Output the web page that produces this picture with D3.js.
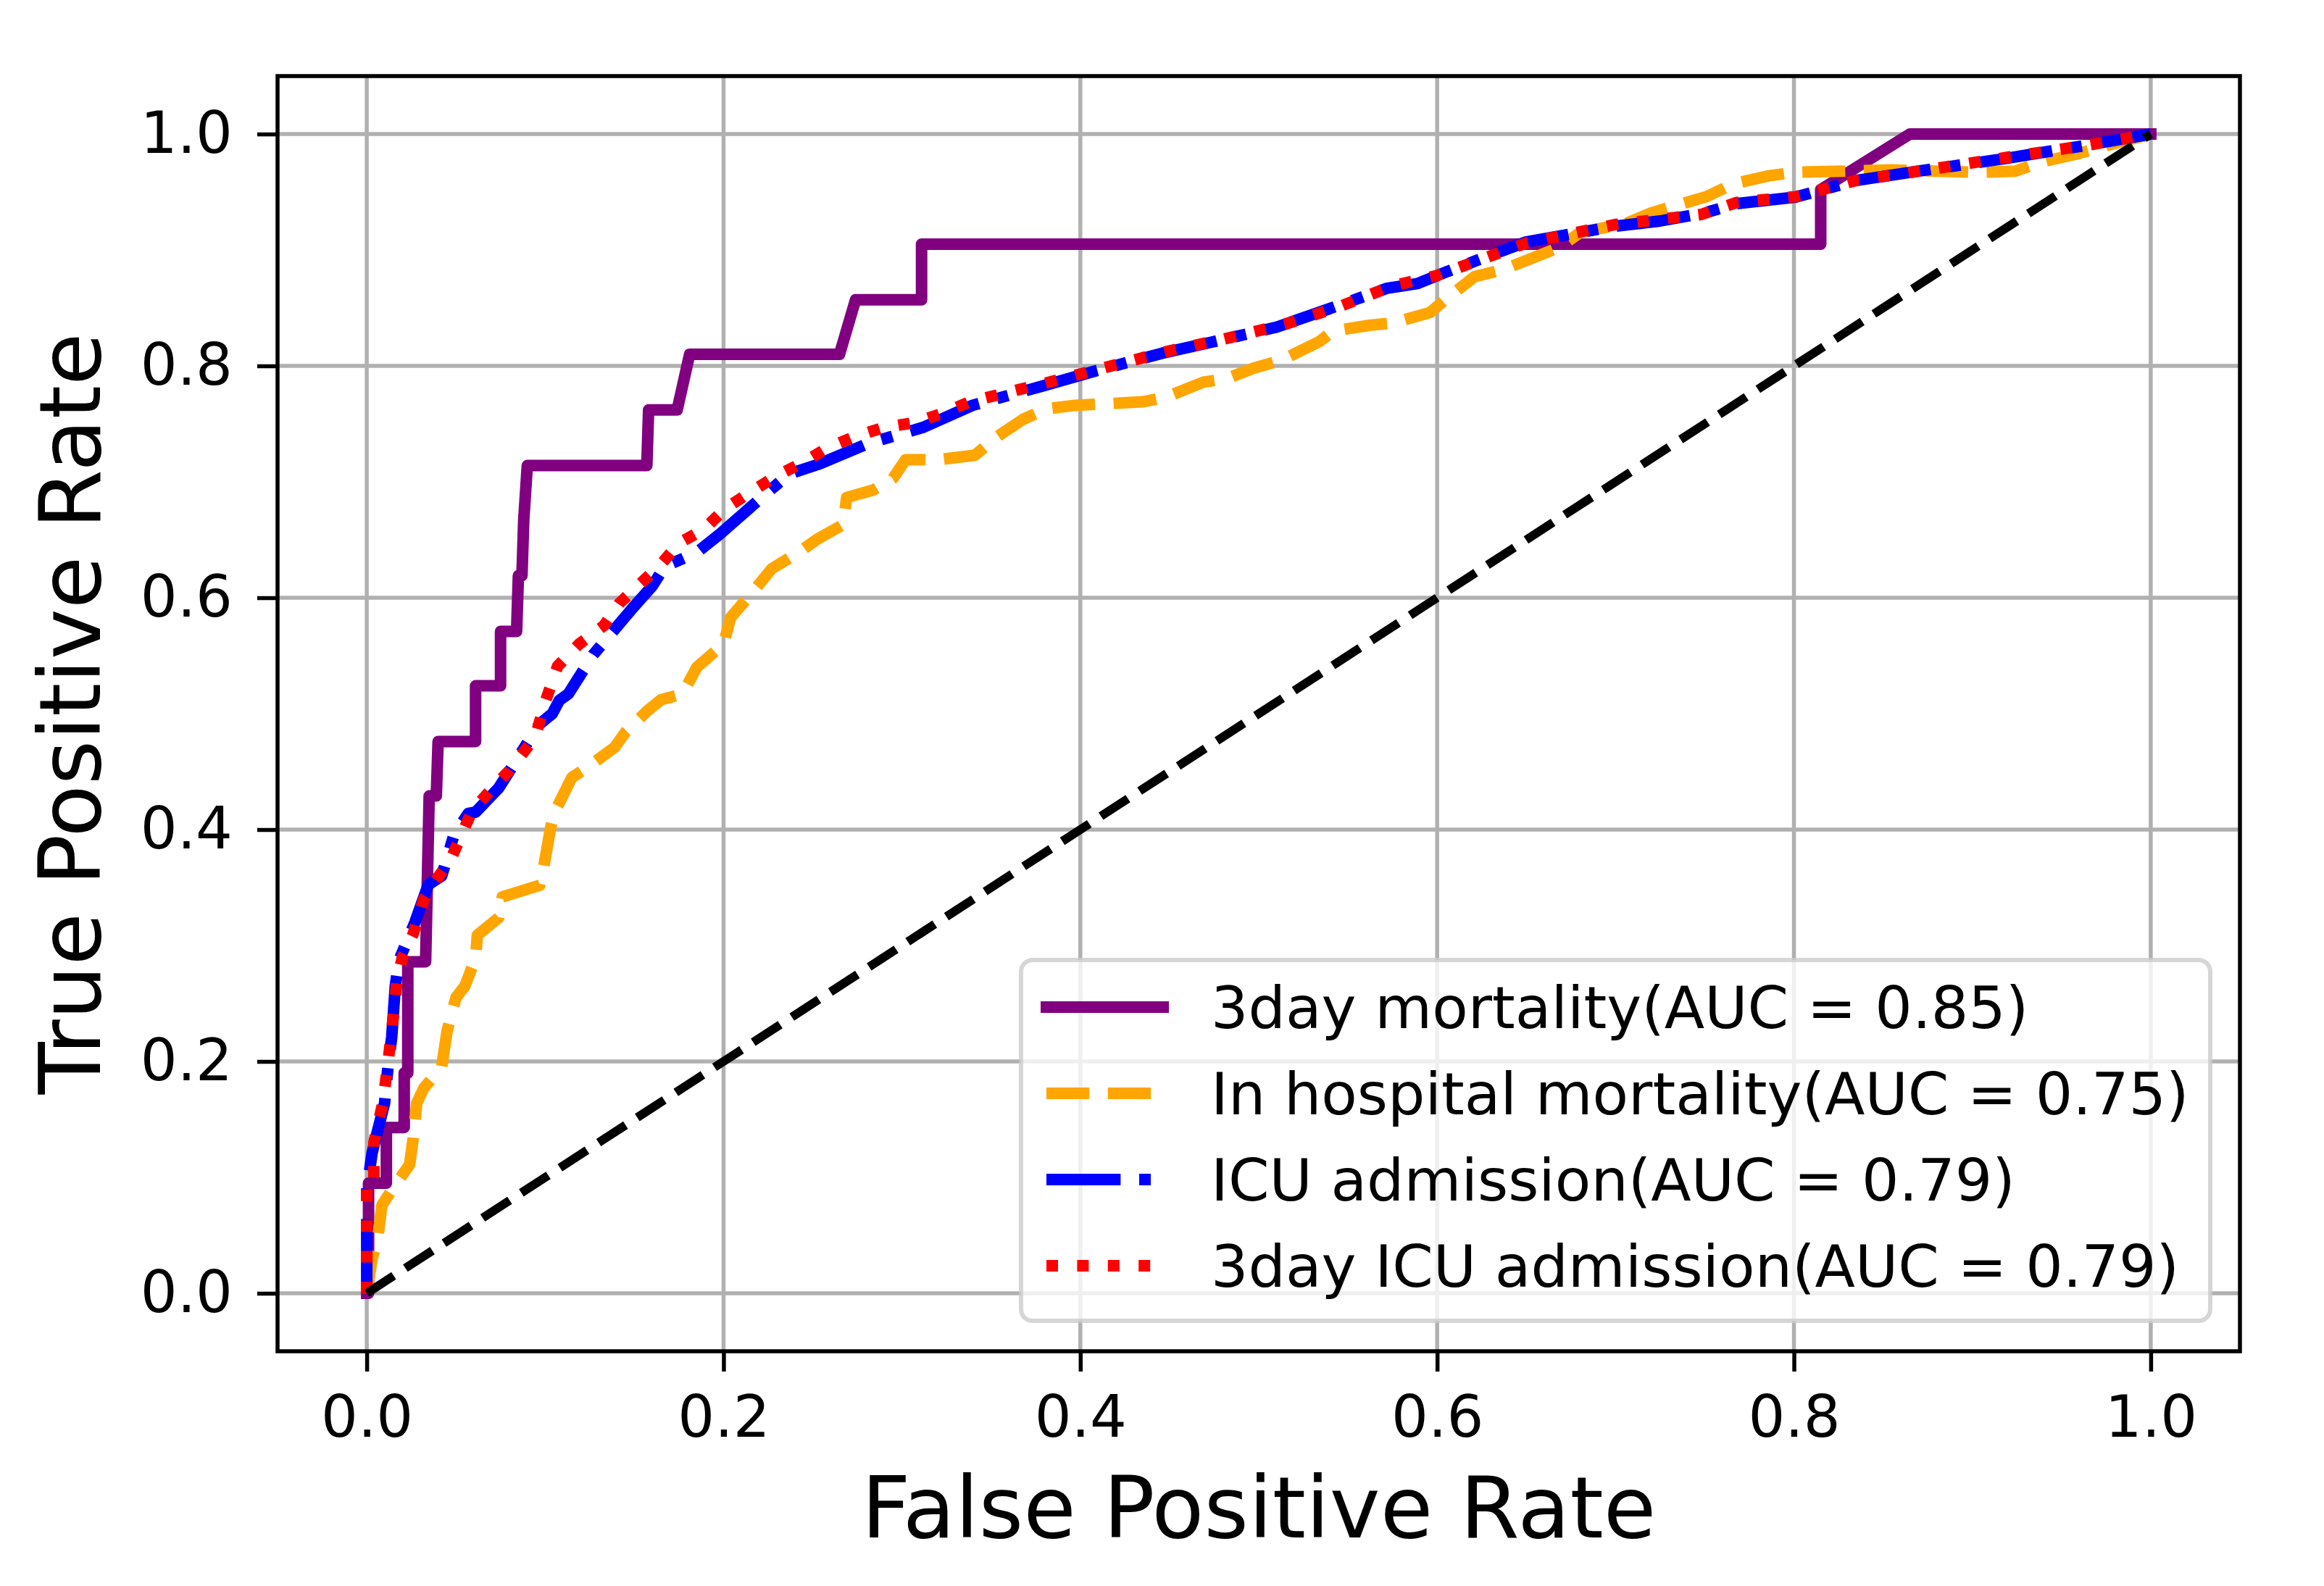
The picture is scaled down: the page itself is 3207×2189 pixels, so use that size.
<!DOCTYPE html>
<html>
<head>
<meta charset="utf-8">
<script src="https://cdnjs.cloudflare.com/ajax/libs/d3/7.8.5/d3.min.js"></script>
<style>
	body { margin: 0; background: #fff; }
	text { font-family: "DejaVu Sans", sans-serif; fill: #000; }
</style>
</head>
<body>
<script>
// ROC curves, [fpr, tpr]
var mortality3day = [
	[0,0],[0.001,0],[0.001,0.095],[0.011,0.095],[0.011,0.143],[0.021,0.143],[0.021,0.190],
	[0.023,0.190],[0.023,0.286],[0.033,0.286],[0.035,0.429],[0.039,0.429],[0.040,0.476],
	[0.061,0.476],[0.061,0.524],[0.075,0.524],[0.075,0.571],[0.084,0.571],[0.085,0.619],
	[0.087,0.619],[0.088,0.667],[0.090,0.714],[0.157,0.714],[0.158,0.762],[0.174,0.762],
	[0.181,0.810],[0.265,0.810],[0.274,0.857],[0.311,0.857],[0.311,0.905],[0.815,0.905],
	[0.815,0.952],[0.865,1.0],[1.0,1.0]
];
var hospitalMortality = [
	[0,0],[0.003,0.03],[0.006,0.046],[0.0085,0.076],[0.014,0.089],[0.024,0.111],[0.026,0.133],
	[0.028,0.164],[0.032,0.177],[0.042,0.195],[0.045,0.226],[0.05,0.255],[0.055,0.265],
	[0.061,0.289],[0.062,0.309],[0.074,0.324],[0.076,0.342],[0.097,0.352],[0.099,0.366],
	[0.103,0.401],[0.105,0.414],[0.115,0.445],[0.123,0.453],[0.139,0.471],[0.145,0.484],
	[0.157,0.502],[0.165,0.512],[0.177,0.517],[0.185,0.540],[0.2,0.560],[0.204,0.583],
	[0.218,0.608],[0.227,0.625],[0.242,0.639],[0.253,0.651],[0.267,0.663],[0.269,0.6865],
	[0.284,0.693],[0.295,0.703],[0.302,0.719],[0.32,0.719],[0.341,0.723],[0.3525,0.738],
	[0.368,0.754],[0.381,0.763],[0.397,0.766],[0.435,0.769],[0.448,0.773],[0.469,0.786],
	[0.482,0.789],[0.497,0.798],[0.513,0.805],[0.534,0.821],[0.5416,0.830],[0.562,0.835],
	[0.575,0.837],[0.596,0.846],[0.606,0.859],[0.621,0.877],[0.637,0.883],[0.655,0.894],
	[0.669,0.9025],[0.68,0.915],[0.706,0.923],[0.72,0.932],[0.732,0.9375],[0.751,0.946],
	[0.766,0.957],[0.786,0.964],[0.801,0.967],[0.855,0.969],[0.904,0.967],[0.924,0.968],
	[0.939,0.976],[0.959,0.983],[0.975,0.99],[1,1]
];
var icuAdmission = [
	[0,0],[0,0.089],[0.003,0.121],[0.005,0.1335],[0.01,0.164],[0.012,0.197],[0.014,0.221],
	[0.016,0.265],[0.018,0.287],[0.024,0.309],[0.027,0.32],[0.0345,0.3525],[0.042,0.36],
	[0.049,0.396],[0.057,0.414],[0.061,0.415],[0.074,0.436],[0.086,0.465],[0.0966,0.4906],
	[0.104,0.50],[0.108,0.5116],[0.113,0.517],[0.127,0.551],[0.149,0.591],[0.16,0.61],
	[0.167,0.627],[0.185,0.639],[0.198,0.655],[0.2217,0.687],[0.237,0.707],[0.253,0.715],
	[0.281,0.733],[0.312,0.747],[0.3396,0.766],[0.3785,0.7825],[0.407,0.795],[0.446,0.811],
	[0.474,0.8206],[0.510,0.8334],[0.539,0.849],[0.572,0.867],[0.589,0.871],[0.606,0.8816],
	[0.650,0.907],[0.7005,0.9206],[0.725,0.925],[0.75,0.932],[0.768,0.940],[0.801,0.9456],
	[0.835,0.960],[0.8685,0.9677],[0.919,0.979],[0.9627,0.99],[1,1]
];
var icuAdmission3day = [
	[0,0],[0,0.09],[0.004,0.09],[0.004,0.13],[0.009,0.164],[0.012,0.2],[0.015,0.24],
	[0.017,0.27],[0.02,0.29],[0.026,0.31],[0.032,0.34],[0.037,0.3525],[0.047,0.374],
	[0.059,0.416],[0.07,0.435],[0.08,0.451],[0.0945,0.48],[0.1,0.51],[0.107,0.541],
	[0.119,0.56],[0.133,0.576],[0.1415,0.595],[0.154,0.613],[0.165,0.629],[0.175,0.647],
	[0.189,0.659],[0.201,0.677],[0.215,0.691],[0.2295,0.705],[0.245,0.717],[0.258,0.729],
	[0.2735,0.739],[0.290,0.747],[0.307,0.751],[0.3225,0.759],[0.338,0.769],[0.38,0.785],
	[0.41,0.797],[0.45,0.813],[0.48,0.823],[0.515,0.836],[0.545,0.851],[0.575,0.869],
	[0.6,0.878],[0.65,0.906],[0.7,0.922],[0.748,0.9306],[0.768,0.941],[0.801,0.946],
	[0.835,0.960],[0.87,0.968],[0.92,0.98],[0.963,0.99],[1,1]
];
var chanceLine = [[0,0],[1,1]];

var seriesNames = [
	"3day mortality(AUC = 0.85)",
	"In hospital mortality(AUC = 0.75)",
	"ICU admission(AUC = 0.79)",
	"3day ICU admission(AUC = 0.79)"
];
var tickValues = [0, 0.2, 0.4, 0.6, 0.8, 1.0];
var xLabel = "False Positive Rate",
	yLabel = "True Positive Rate";

// note: "top" clashes with window.top, so plot edges get their own names
var svgWidth = 3207, svgHeight = 2189,
	plotLeft = 383, plotRight = 3091, plotTop = 105, plotBottom = 1865,
	lw = 16;

var series = [
	{ data: mortality3day, color: "#800080", dash: null },
	{ data: hospitalMortality, color: "#ffa500", dash: [3.7 * lw, 1.6 * lw] },
	{ data: icuAdmission, color: "#0000ff", dash: [6.4 * lw, 1.6 * lw, 1 * lw, 1.6 * lw] },
	{ data: icuAdmission3day, color: "#ff0000", dash: [1 * lw, 1.65 * lw] }
];
series.forEach(function(s, i) { s.name = seriesNames[i]; });

var svg = d3.select("body").append("svg")
	.attr("width", svgWidth)
	.attr("height", svgHeight);

svg.append("rect").attr("width", svgWidth).attr("height", svgHeight).attr("fill", "#fff");

var x = d3.scaleLinear().domain([-0.05, 1.05]).range([plotLeft, plotRight]),
	y = d3.scaleLinear().domain([-0.05, 1.05]).range([plotBottom, plotTop]);

// grid
svg.append("g").selectAll("line").data(tickValues).enter().append("line")
	.attr("x1", function(d) { return x(d); }).attr("x2", function(d) { return x(d); })
	.attr("y1", plotTop).attr("y2", plotBottom)
	.attr("stroke", "#b0b0b0").attr("stroke-width", 5.5);
svg.append("g").selectAll("line").data(tickValues).enter().append("line")
	.attr("y1", function(d) { return y(d); }).attr("y2", function(d) { return y(d); })
	.attr("x1", plotLeft).attr("x2", plotRight)
	.attr("stroke", "#b0b0b0").attr("stroke-width", 5.5);

var line = d3.line()
	.x(function(d) { return x(d[0]); })
	.y(function(d) { return y(d[1]); });

series.forEach(function(s) {
	svg.append("path")
		.datum(s.data)
		.attr("d", line)
		.attr("fill", "none")
		.attr("stroke", s.color)
		.attr("stroke-width", lw)
		.attr("stroke-linejoin", "round")
		.attr("stroke-linecap", s.dash ? "butt" : "square")
		.attr("stroke-dasharray", s.dash ? s.dash.join(",") : null);
});

// chance diagonal
svg.append("path")
	.datum(chanceLine)
	.attr("d", line)
	.attr("fill", "none")
	.attr("stroke", "#000")
	.attr("stroke-width", 12)
	.attr("stroke-dasharray", (3.7 * 12) + "," + (1.6 * 12));

// axes
var xAxis = svg.append("g")
	.attr("transform", "translate(0," + plotBottom + ")")
	.call(d3.axisBottom(x).tickValues(tickValues).tickFormat(d3.format(".1f")).tickSize(28).tickPadding(33));
var yAxis = svg.append("g")
	.attr("transform", "translate(" + plotLeft + ",0)")
	.call(d3.axisLeft(y).tickValues(tickValues).tickFormat(d3.format(".1f")).tickSize(28).tickPadding(34));

[xAxis, yAxis].forEach(function(a) {
	a.select(".domain").remove();
	a.selectAll(".tick line").attr("stroke", "#000").attr("stroke-width", 5.5);
	a.selectAll(".tick text")
		.attr("font-size", 80)
		.attr("font-family", "DejaVu Sans")
		.attr("fill", "#000");
});

// spines
svg.append("rect")
	.attr("x", plotLeft).attr("y", plotTop)
	.attr("width", plotRight - plotLeft).attr("height", plotBottom - plotTop)
	.attr("fill", "none").attr("stroke", "#000").attr("stroke-width", 5.5);

// axis labels
svg.append("text")
	.attr("x", (plotLeft + plotRight) / 2).attr("y", 2122)
	.attr("text-anchor", "middle")
	.attr("font-size", 118)
	.text(xLabel);
svg.append("text")
	.attr("transform", "translate(138," + ((plotTop + plotBottom) / 2) + ") rotate(-90)")
	.attr("text-anchor", "middle")
	.attr("font-size", 118)
	.text(yLabel);

// legend
var legend = svg.append("g");
legend.append("rect")
	.attr("x", 1409).attr("y", 1325)
	.attr("width", 3050 - 1409).attr("height", 1823 - 1325)
	.attr("rx", 16).attr("ry", 16)
	.attr("fill", "#fff").attr("fill-opacity", 0.8)
	.attr("stroke", "#cccccc").attr("stroke-opacity", 0.8)
	.attr("stroke-width", 6);

var rowY = d3.scaleLinear().domain([0, 3]).range([1390, 1747]);
series.forEach(function(s, i) {
	legend.append("line")
		.attr("x1", 1444).attr("x2", 1605)
		.attr("y1", rowY(i)).attr("y2", rowY(i))
		.attr("stroke", s.color)
		.attr("stroke-width", lw)
		.attr("stroke-linecap", s.dash ? "butt" : "square")
		.attr("stroke-dasharray", s.dash ? s.dash.join(",") : null);
	legend.append("text")
		.attr("x", 1671).attr("y", rowY(i) + 29)
		.attr("font-size", 81)
		.text(s.name);
});
</script>
</body>
</html>
